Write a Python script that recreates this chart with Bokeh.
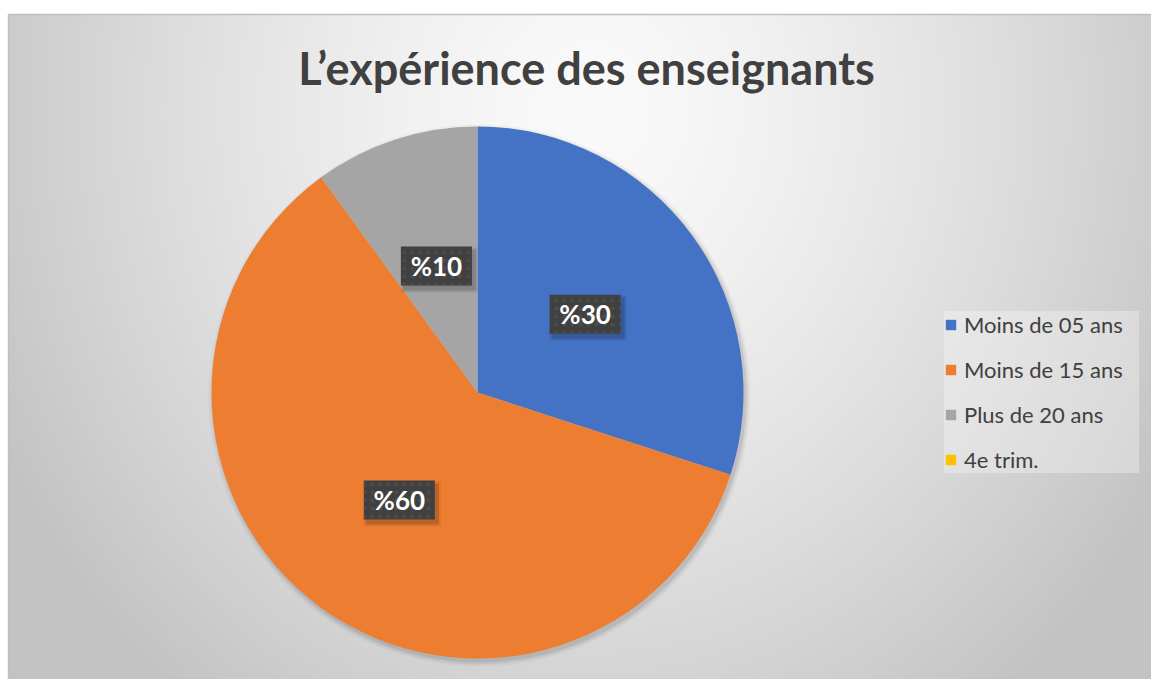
import numpy as np
from bokeh.plotting import figure
from bokeh.models import ColumnDataSource, Range1d, Legend, LegendItem
from bokeh.core.properties import value
from bokeh.embed import file_html
from bokeh.resources import INLINE

# ---------------- data ----------------
title_text = "L’expérience des enseignants"
categories = ["Moins de 05 ans", "Moins de 15 ans", "Plus de 20 ans", "4e trim."]
values = [30, 60, 10, 0]
label_texts = ["%30", "%60", "%10", ""]
colors = ["#4472C4", "#ED7D31", "#A5A5A5", "#FFC000"]

# ---------------- layout ----------------
# 1 data unit == 1 px ; y measured upward from the bottom of the figure
W, H = 1151, 679
CX0, CX1, CY0, CY1 = 8, 1151, 0, 665   # chart area
PCX, PCY, R = 477, 287, 266            # pie centre / radius

p = figure(width=W, height=H, x_range=Range1d(0, W), y_range=Range1d(0, H),
           output_backend="svg", toolbar_location=None, min_border=0,
           x_axis_location=None, y_axis_location=None)
p.grid.visible = False
p.outline_line_color = None
p.background_fill_color = "white"
p.border_fill_color = "white"

# background radial gradient
CW, CH = CX1 - CX0, CY1 - CY0
nx, ny = CW // 2, CH // 2
xs = CX0 + (np.arange(nx) + 0.5) * CW / nx
ys = CY0 + (np.arange(ny) + 0.5) * CH / ny
X, Y = np.meshgrid(xs, ys)
gcx, gcy = 590, 679 - 110
rr = np.sqrt(((X - gcx) / 600.0) ** 2 + ((Y - gcy) / 680.0) ** 2)
v = 250 - 48 * np.clip(rr, 0, 1.1) ** 1.4
img = np.empty((ny, nx), dtype=np.uint32)
view = img.view(dtype=np.uint8).reshape((ny, nx, 4))
view[..., 0] = v
view[..., 1] = v
view[..., 2] = v
view[..., 3] = 255
p.image_rgba(image=[img], x=CX0, y=CY0, dw=CW, dh=CH)
p.segment(x0=[CX0, CX0], y0=[CY1, CY0], x1=[CX1, CX0], y1=[CY1, CY1],
          line_color="#c0c0c0", line_width=1.5)

# title
p.text(x=[586], y=[612], text=[title_text], text_font=value("Lato"),
       text_font_style="bold", text_font_size="45px", text_color="#404040",
       text_align="center", text_baseline="middle")

# pie shadow
for dr, a in [(5, 0.03), (3, 0.05), (1, 0.08)]:
    p.circle(x=[PCX + 2], y=[PCY - 3], radius=R + dr, fill_color="black",
             fill_alpha=a, line_color=None)

# wedges
vals = np.array(values, dtype=float)
frac = vals / vals.sum()
cum_end = np.cumsum(frac)
cum_start = cum_end - frac
start = np.pi / 2 - 2 * np.pi * cum_start
end = np.pi / 2 - 2 * np.pi * cum_end
nz = vals > 0
wsrc = ColumnDataSource(dict(start=start[nz], end=end[nz],
                             color=[c for c, k in zip(colors, nz) if k]))
p.wedge(x=PCX, y=PCY, radius=R, start_angle="start", end_angle="end",
        direction="clock", fill_color="color", line_color=None, source=wsrc)

# data labels
mid = (start + end) / 2
lx = PCX + 0.5 * R * np.cos(mid)
ly = PCY + 0.5 * R * np.sin(mid)
lsrc = ColumnDataSource(dict(x=lx[nz], y=ly[nz],
                             t=[t for t, k in zip(label_texts, nz) if k]))
ssrc = ColumnDataSource(dict(x=lx[nz] + 3, y=ly[nz] - 4))
p.rect(x="x", y="y", width=77, height=45, source=ssrc, fill_color="black",
       fill_alpha=0.07, line_color=None)
p.rect(x="x", y="y", width=73, height=41, source=ssrc, fill_color="black",
       fill_alpha=0.15, line_color=None)
p.rect(x="x", y="y", width=71, height=39, source=lsrc, fill_color="#404040",
       line_color=None, hatch_pattern="dot", hatch_color="#4c4c4c",
       hatch_scale=8, hatch_weight=2)
p.text(x="x", y="y", text="t", source=lsrc, text_font=value("Lato"),
       text_font_style="bold", text_font_size="26px", text_color="white",
       text_align="center", text_baseline="middle")

# legend
items = []
for cat, col in zip(categories, colors):
    r = p.rect(x=[PCX], y=[PCY], width=0, height=0, fill_color=col,
               line_color=None)
    items.append(LegendItem(label=cat, renderers=[r]))
legend = Legend(items=items, location=(944, 206), orientation="vertical",
                glyph_width=13, glyph_height=13, label_standoff=7,
                label_text_font="Lato", label_text_font_size="22px",
                label_text_color="#404040", label_height=26, label_width=175,
                spacing=18, padding=16, margin=0,
                background_fill_color="white", background_fill_alpha=0.3,
                border_line_color=None)
p.add_layout(legend)

open("out.html", "w").write(file_html(p, INLINE))
